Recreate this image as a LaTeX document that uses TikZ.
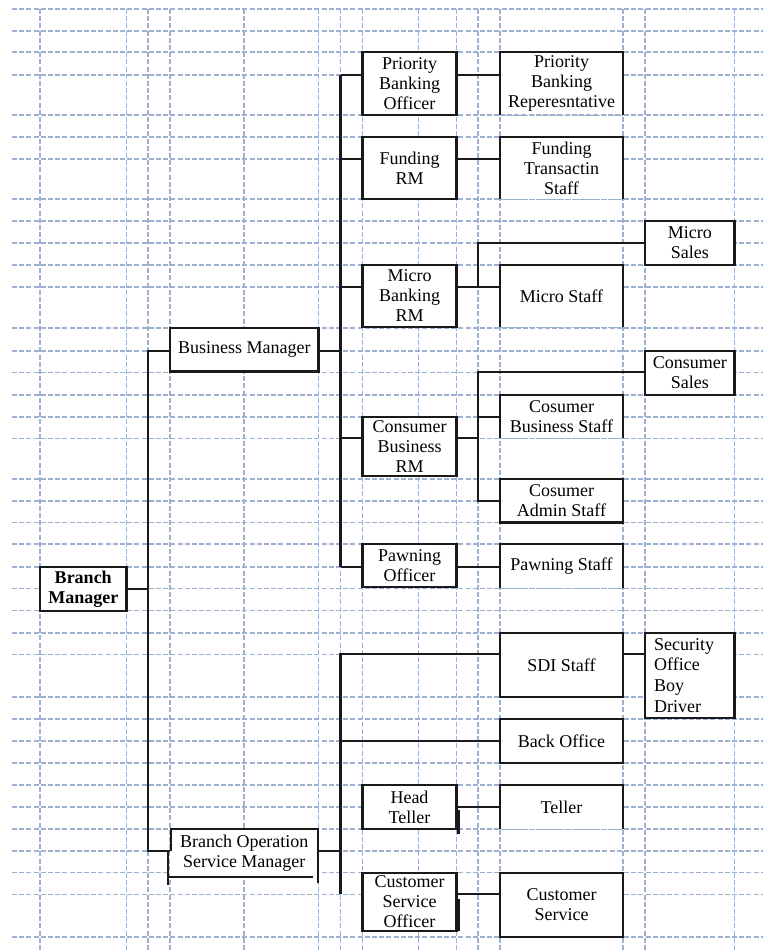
\documentclass[tikz,border=0pt]{standalone}
\usepackage{fontspec}
\setmainfont{Liberation Serif}
\begin{document}
\begin{tikzpicture}[x=1pt,y=-1pt,
  gridline/.style={draw=gridblue,line width=1.4pt,dash pattern=on 5pt off 2.2pt},
  conn/.style={draw=ink,line width=2.2pt},
  edge/.style={draw=ink,line width=2.2pt},
  box/.style={draw=ink,line width=2.2pt,fill=white,inner sep=0pt,align=center,
    font=\fontsize{18}{20}\selectfont},
  openbox/.style={fill=white,inner sep=0pt,align=center,
    font=\fontsize{18}{20}\selectfont},
  bare/.style={fill=white,inner sep=0pt,align=center,
    font=\fontsize{18}{20}\selectfont}]
\definecolor{gridblue}{HTML}{9EB1CD}
\definecolor{ink}{HTML}{1A1A1A}
\useasboundingbox[fill=white] (0,0) rectangle (763,952);

% background grid
\foreach \y in {9,31,52,75,115,137,159,199,221,243,265,287,328,351,372.5,395,417,438.5,479,501,522.5,544,567,588.5,610.5,633,654.5,697,719,741,763,785,807,829,851,872.5,894.5,937}
  \draw[gridline] (12,\y) -- (763,\y);
\foreach \x in {40,126.5,148,170,244,318.5,340.5,362.5,418.5,456.5,478,500,623,645,734.5}
  \draw[gridline] (\x,9) -- (\x,952);

% level coordinates
\coordinate (X1) at (148,0);
\coordinate (X2) at (340.5,0);
\coordinate (X3) at (478,0);
\coordinate (Lz) at (0,351);
\coordinate (L1) at (0,75);
\coordinate (L2) at (0,159);
\coordinate (L3) at (0,287);
\coordinate (Lm) at (0,243);
\coordinate (L4) at (0,438.3);
\coordinate (Lc1) at (0,372.3);
\coordinate (Lc2) at (0,416.7);
\coordinate (Lc3) at (0,501);
\coordinate (L5) at (0,566.7);
\coordinate (Lb) at (0,850.7);
\coordinate (L6) at (0,654.3);
\coordinate (L7) at (0,740.7);
\coordinate (L8) at (0,806.7);
\coordinate (L9) at (0,894.3);

% boxes
\node[box,minimum width=86.5,minimum height=44] (bm) at (83.25,589) {\bfseries Branch\\\bfseries Manager};
\node[box,minimum width=148.5,minimum height=43.5] (bizm) at (244.25,349.75) {Business Manager};
\node[bare,minimum width=148.5,minimum height=48] (bosm) at (244.25,853) {Branch Operation\\Service Manager};

\node[box,minimum width=94,minimum height=63] (pbo) at (409.5,83.5) {Priority\\Banking\\Officer};
\node[box,minimum width=94,minimum height=62] (frm) at (409.5,168) {Funding\\RM};
\node[box,minimum width=94,minimum height=62] (mbrm) at (409.5,296) {Micro\\Banking\\RM};
\node[box,minimum width=94,minimum height=59] (cbrm) at (409.5,446.5) {Consumer\\Business\\RM};
\node[box,minimum width=94,minimum height=43] (pwo) at (409.5,565.5) {Pawning\\Officer};
\node[box,minimum width=94,minimum height=44] (ht) at (409.5,807) {Head\\Teller};
\node[box,minimum width=94,minimum height=58] (cso) at (409.5,902) {Customer\\Service\\Officer};

\node[openbox,minimum width=123,minimum height=63] (pbr) at (561.5,83.5) {Priority\\Banking\\Reperesntative};
\node[openbox,minimum width=123,minimum height=62] (fts) at (561.5,168) {Funding\\Transactin\\Staff};
\node[openbox,minimum width=123,minimum height=62] (mst) at (561.5,296) {Micro Staff};
\node[openbox,minimum width=123,minimum height=43] (cbs) at (561.5,416.5) {Cosumer\\Business Staff};
\node[box,minimum width=123,minimum height=43.5] (cas) at (561.5,500.75) {Cosumer\\Admin Staff};
\node[openbox,minimum width=123,minimum height=44] (pws) at (561.5,566) {Pawning Staff};
\node[box,minimum width=123,minimum height=64] (sdi) at (561.5,665) {SDI Staff};
\node[box,minimum width=123,minimum height=44] (bo) at (561.5,741) {Back Office};
\node[openbox,minimum width=123,minimum height=44] (tel) at (561.5,807) {Teller};
\node[box,minimum width=123,minimum height=64] (cs) at (561.5,905) {Customer\\Service};

\node[box,minimum width=89.5,minimum height=44] (ms) at (689.75,243) {Micro\\Sales};
\node[box,minimum width=89.5,minimum height=44] (csl) at (689.75,373) {Consumer\\Sales};
\node[box,minimum width=89.5,minimum height=85] (sec) at (689.75,675.5) {};
\node[inner sep=0pt,anchor=west,align=left,font=\fontsize{18}{20.8}\selectfont] (sectext) at ([xshift=10]sec.west) {Security\\Office\\Boy\\Driver};

% open-bottom boxes
\foreach \n in {pbr,fts,mst,cbs,pws,tel}{
  \draw[gridline] (\n.south west) -- (\n.south east);
  \draw[edge] (\n.south west) -- (\n.north west) -- (\n.north east) -- (\n.south east);
}

% irregular box outlines
\draw[edge] (170.7,850.7) -- (170.7,829) -- (318.3,829) -- (318.3,883.3);
\draw[edge] (168.3,850.7) -- (168.3,885);
\draw[edge] (168.3,876.7) -- (313.3,876.7);
\draw[edge] (458.5,810) -- (458.5,834);
\draw[edge] (458.5,899) -- (458.5,931);

% connectors: branch manager
\draw[conn] (bm.east) -- (bm.east -| X1);
\draw[conn] (bizm.west |- Lz) -- (X1 |- Lz) -- (X1 |- Lb) -- (bosm.west |- Lb);

% business manager spine
\draw[conn] (bizm.east |- Lz) -- (X2 |- Lz);
\draw[conn] (X2 |- L1) -- (X2 |- L5);
\foreach \n/\l in {pbo/L1,frm/L2,mbrm/L3,cbrm/L4,pwo/L5}
  \draw[conn] (X2 |- \l) -- (\n.west |- \l);
\draw[conn] (pbo.east |- L1) -- (pbr.west |- L1);
\draw[conn] (frm.east |- L2) -- (fts.west |- L2);
\draw[conn] (mbrm.east |- L3) -- (mst.west |- L3);
\draw[conn] (X3 |- L3) -- (X3 |- Lm) -- (ms.west |- Lm);
\draw[conn] (cbrm.east |- L4) -- (X3 |- L4);
\draw[conn] (csl.west |- Lc1) -- (X3 |- Lc1) -- (X3 |- Lc3) -- (cas.west |- Lc3);
\draw[conn] (X3 |- Lc2) -- (cbs.west |- Lc2);
\draw[conn] (pwo.east |- L5) -- (pws.west |- L5);

% operations spine
\draw[conn] (bosm.east |- Lb) -- (X2 |- Lb);
\draw[conn] (sdi.west |- L6) -- (X2 |- L6) -- (X2 |- L9);
\draw[conn] (X2 |- L7) -- (bo.west |- L7);
\draw[conn] (sdi.east |- L6) -- (sec.west |- L6);
\draw[conn] (ht.east |- L8) -- (tel.west |- L8);
\draw[conn] (cso.east |- L9) -- (cs.west |- L9);
\end{tikzpicture}
\end{document}
